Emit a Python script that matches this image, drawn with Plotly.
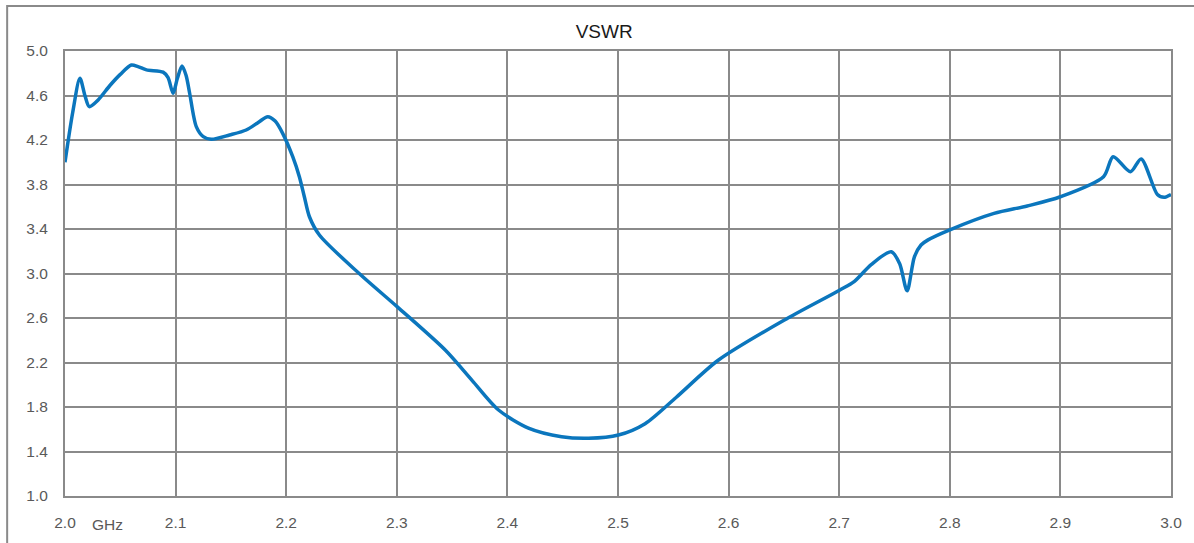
import plotly.graph_objects as go

freq_ghz = [2.000, 2.007, 2.0135, 2.018, 2.022, 2.030, 2.0406, 2.050, 2.060, 2.066,
            2.0737, 2.0887, 2.0932, 2.0977, 2.1015, 2.1058, 2.1095, 2.1127, 2.1187, 2.125,
            2.1323, 2.1488, 2.1638, 2.175, 2.1833, 2.190, 2.1968, 2.2059, 2.2119, 2.2164,
            2.221, 2.230, 2.266, 2.3005, 2.344, 2.368, 2.392, 2.419, 2.449, 2.4734,
            2.5004, 2.5245, 2.553, 2.5906, 2.6537, 2.7003, 2.7138, 2.7289, 2.747, 2.7546,
            2.7614, 2.768, 2.774, 2.780, 2.7995, 2.84, 2.870, 2.900, 2.939, 2.9477,
            2.9634, 2.973, 2.9877, 2.9937, 3.000]
vswr = [4.00, 4.45, 4.755, 4.60, 4.50, 4.56, 4.69, 4.79, 4.874, 4.86,
        4.83, 4.81, 4.76, 4.62, 4.75, 4.865, 4.78, 4.62, 4.32, 4.23,
        4.206, 4.245, 4.29, 4.36, 4.41, 4.37, 4.26, 4.05, 3.87, 3.69,
        3.51, 3.346, 3.0, 2.70, 2.31, 2.04, 1.773, 1.61, 1.533, 1.519,
        1.548, 1.65, 1.89, 2.22, 2.60, 2.85, 2.93, 3.08, 3.196, 3.09,
        2.845, 3.15, 3.256, 3.30, 3.39, 3.54, 3.607, 3.69, 3.87, 4.05,
        3.915, 4.03, 3.71, 3.685, 3.71]

x_ticks = [2.0, 2.1, 2.2, 2.3, 2.4, 2.5, 2.6, 2.7, 2.8, 2.9, 3.0]
y_ticks = [1.0, 1.4, 1.8, 2.2, 2.6, 3.0, 3.4, 3.8, 4.2, 4.6, 5.0]

GRID = "#8a8a8a"
FONT = "Liberation Sans"

fig = go.Figure()
fig.add_trace(go.Scatter(
    x=freq_ghz, y=vswr, mode="lines",
    line=dict(color="#0b76bd", width=3.5, shape="spline", smoothing=0.8),
    hoverinfo="x+y", showlegend=False,
))

fig.update_layout(
    width=1194, height=543,
    margin=dict(l=65, r=20, t=51, b=47),
    paper_bgcolor="white", plot_bgcolor="white",
    title=dict(text="VSWR", x=0.506, xref="container", y=1 - 31 / 543,
               yref="container", xanchor="center", yanchor="middle",
               font=dict(family=FONT, size=19, color="#1a1a1a")),
    font=dict(family=FONT, size=15.5, color="#595959"),
)
fig.update_xaxes(
    range=[2.0, 3.0], tickmode="array", tickvals=x_ticks,
    ticktext=[f"{v:.1f}" for v in x_ticks],
    showgrid=True, gridcolor=GRID, gridwidth=2,
    showline=True, linecolor=GRID, linewidth=2, mirror=True,
    zeroline=False, ticks="", ticklabelstandoff=11,
)
fig.update_yaxes(
    range=[1.0, 5.0], tickmode="array", tickvals=y_ticks,
    ticktext=[f"{v:.1f}" for v in y_ticks],
    showgrid=True, gridcolor=GRID, gridwidth=2,
    showline=True, linecolor=GRID, linewidth=2, mirror=True,
    zeroline=False, ticks="", ticklabelstandoff=12,
)

fig.add_annotation(
    text="GHz", x=2.038, xref="x", y=-28 / 445, yref="paper",
    showarrow=False, xanchor="center", yanchor="middle",
    font=dict(family=FONT, size=15.5, color="#595959"),
)

# outer chart border (extends past right and bottom edges)
fig.add_shape(
    type="rect", xref="paper", yref="paper",
    x0=(7 - 65) / 1109, x1=1.2, y0=-0.3, y1=(496 - 6) / 445,
    line=dict(color=GRID, width=2), fillcolor="rgba(0,0,0,0)", layer="below",
)

fig.write_html(
    "out.html",
    config={"displayModeBar": False},
    post_script="document.body.style.margin='0';document.body.style.overflow='hidden';",
)
